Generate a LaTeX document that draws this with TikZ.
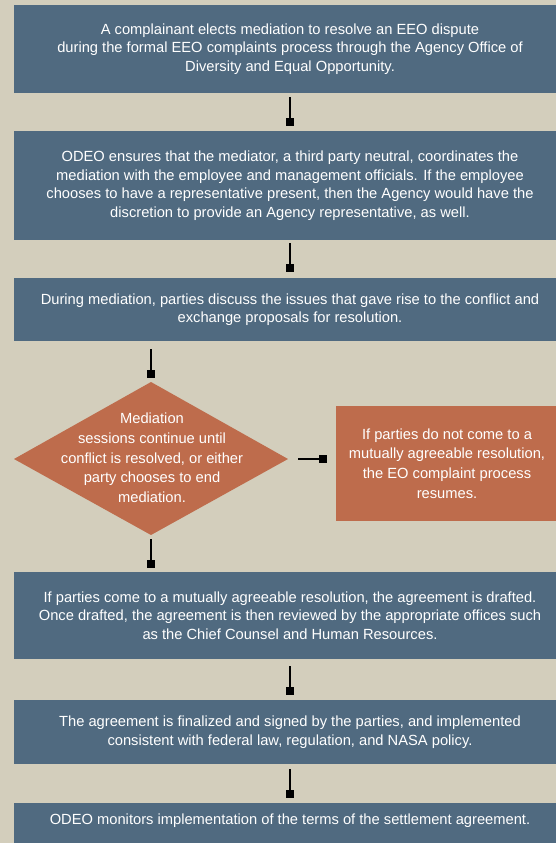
\documentclass[tikz,border=0pt]{standalone}
\usepackage{fontspec}
\setmainfont{Liberation Sans}
\usetikzlibrary{arrows.meta,calc}
\definecolor{color_background}{HTML}{D3CEBC}
\definecolor{color_step}{HTML}{506A80}
\definecolor{color_branch}{HTML}{BE6C4C}

\begin{document}
\begin{tikzpicture}[x=1pt,y=-1pt,
		every node/.style={text=white,align=center,inner sep=0pt,font=\fontsize{14.7pt}{18.5pt}\selectfont},
		stepbox/.style={fill=color_step,minimum width=552pt},
		branchbox/.style={fill=color_branch,minimum width=222pt,minimum height=115pt,font=\fontsize{14.7pt}{19.7pt}\selectfont},
		link/.style={line width=1.8pt,black,-{Square[length=8pt,width=8pt]},shorten <=4pt,shorten >=5pt}]
				\useasboundingbox (0, 0) rectangle (556, 843);
				% Background
				\fill[color_background] (0, 0) rectangle (556, 843);

				% Diamond points
				\coordinate (DT) at (151, 382);
				\coordinate (DR) at (288, 459);
				\coordinate (DB) at (151, 535);
				\coordinate (DL) at (14, 459);

				% Steps
				\node[stepbox,minimum height=88pt] (s1) at (290, 49)
					{A complainant elects mediation to resolve an EEO dispute\\
					during the formal EEO complaints process through the Agency Office of\\
					Diversity and Equal Opportunity.};
				\node[stepbox,minimum height=109pt] (s2) at (290, 185.5)
					{ODEO ensures that the mediator, a third party neutral, coordinates the\\
					mediation with the employee and management officials. If the employee\\
					chooses to have a representative present, then the Agency would have the\\
					discretion to provide an Agency representative, as well.};
				\node[stepbox,minimum height=63pt] (s3) at (290, 309.5)
					{During mediation, parties discuss the issues that gave rise to the conflict and\\
					exchange proposals for resolution.};
				\node[stepbox,minimum height=87pt] (s4) at (290, 615.5)
					{If parties come to a mutually agreeable resolution, the agreement is drafted.\\
					Once drafted, the agreement is then reviewed by the appropriate offices such\\
					as the Chief Counsel and Human Resources.};
				\node[stepbox,minimum height=64pt] (s5) at (290, 732)
					{The agreement is finalized and signed by the parties, and implemented\\
					consistent with federal law, regulation, and NASA policy.};
				\node[stepbox,minimum height=47pt,text depth=13.7pt] (s6) at (290, 826.5)
					{ODEO monitors implementation of the terms of the settlement agreement.};

				% Decision
				\fill[color_branch] (DT) -- (DR) -- (DB) -- (DL) -- cycle;
				\node[font=\fontsize{14.7pt}{19.7pt}\selectfont] (dia) at (152, 458)
					{Mediation\\
					sessions continue until\\
					conflict is resolved, or either\\
					party chooses to end\\
					mediation.};
				\node[branchbox] (fail) at (447, 463.5)
					{If parties do not come to a\\
					mutually agreeable resolution,\\
					the EO complaint process\\
					resumes.};

				% Connectors
				\draw[link] (s1) -- (s2);
				\draw[link,shorten <=3pt,shorten >=6pt] (s2) -- (s3);
				\draw[link,shorten <=8pt,shorten >=4pt] (s3.south -| DT) -- (DT);
				\draw[link,shorten >=4pt] (DB) -- (s4.north -| DB);
				\draw[link,shorten <=7pt] (s4) -- (s5);
				\draw[link,shorten <=5pt] (s5) -- (s6);
				\draw[link,shorten <=10pt,shorten >=9pt] (DR) -- (DR -| fail.west);
\end{tikzpicture}
\end{document}
